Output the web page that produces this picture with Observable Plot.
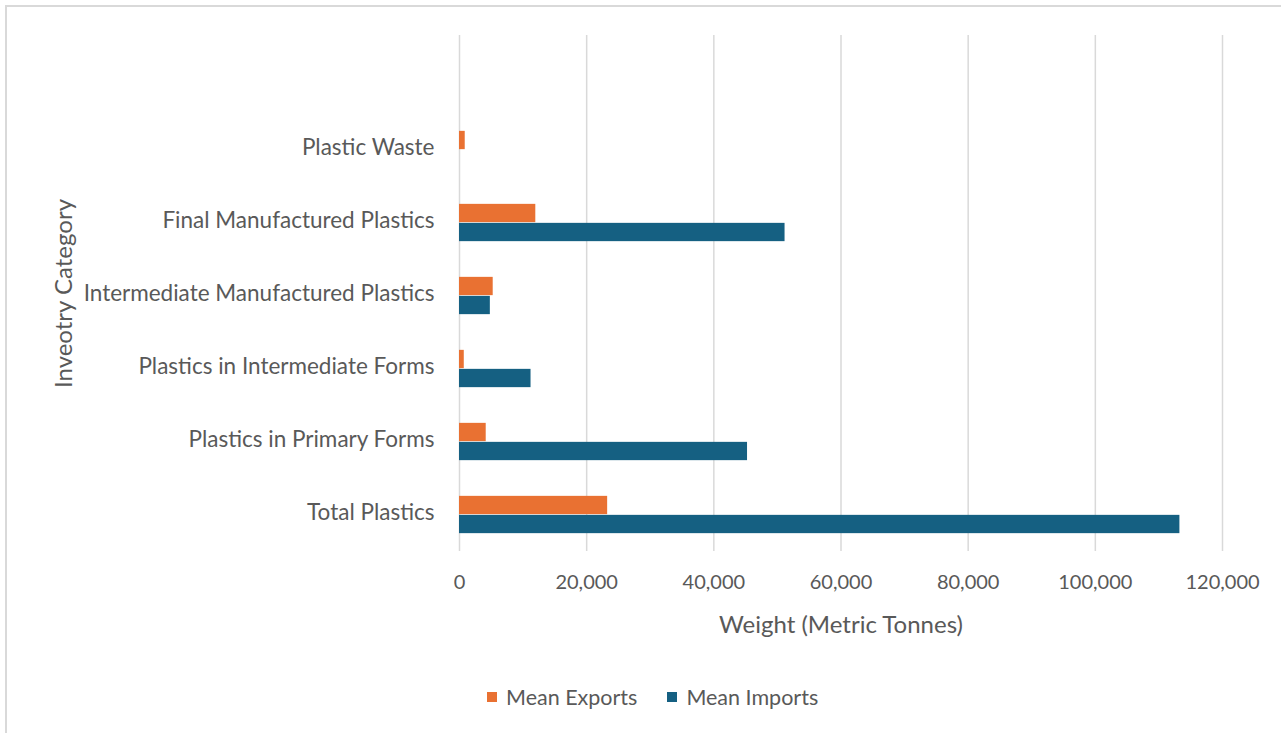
<!DOCTYPE html>
<html><head><meta charset="utf-8">
<script src="https://cdn.jsdelivr.net/npm/d3@7"></script>
<script src="https://cdn.jsdelivr.net/npm/@observablehq/plot@0.6"></script>
<style>
html,body{margin:0;padding:0;background:#fff;overflow:hidden;}
#frame{position:absolute;left:5px;top:5px;width:1290px;height:760px;border:2px solid #d9d9d9;box-sizing:border-box;}
#chart svg{display:block;}
#legend{display:flex;align-items:center;margin-left:480px;margin-top:38px;height:24px;font-family:Lato,sans-serif;font-size:21.5px;color:#595959;}
#legend .item{display:flex;align-items:center;margin-right:30px;}
#legend .sw{width:10px;height:10px;margin-right:9px;}
</style>
</head><body>
<div id="frame"><div id="chart"></div><div id="legend"></div></div>
<script>
const categories = ["Plastic Waste","Final Manufactured Plastics","Intermediate Manufactured Plastics","Plastics in Intermediate Forms","Plastics in Primary Forms","Total Plastics"];
const seriesNames = ["Mean Exports","Mean Imports"];
const meanExports = [900, 12000, 5300, 750, 4200, 23300];
const meanImports = [0, 51200, 4850, 11250, 45300, 113300];
const xTicks = [0,20000,40000,60000,80000,100000,120000];
const xTitle = "Weight (Metric Tonnes)";
const yTitle = "Inveotry Category";
const seriesColors = ["#E97132","#156082"];

const rows = categories.flatMap((c,i)=>[
  {category:c, series:seriesNames[0], value:meanExports[i]},
  {category:c, series:seriesNames[1], value:meanImports[i]}
]);
const fmt = d3.format(",");

const plot = Plot.plot({
  width:1274, height:640,
  marginLeft:452, marginRight:59, marginTop:28, marginBottom:96,
  style:{fontFamily:"Lato, sans-serif", fontSize:"19px", color:"#595959", background:"transparent", overflow:"visible"},
  x:{domain:[0,120000]},
  y:{domain:categories, paddingInner:0, paddingOuter:0.5, align:1},
  color:{domain:seriesNames, range:seriesColors},
  marks:[
    Plot.gridX(xTicks, {stroke:"#d9d9d9", strokeOpacity:1, strokeWidth:1.5}),
    Plot.axisX(xTicks, {tickSize:0, tickPadding:23, tickFormat:fmt, label:null, fontSize:20}),
    Plot.axisY({tickSize:0, tickPadding:25, label:null, fontSize:22.5, dy:-2.5}),
    Plot.text([xTitle], {text:d=>d, frameAnchor:"bottom", dy:74, lineAnchor:"middle", textAnchor:"middle", fontSize:24}),
    Plot.text([yTitle], {text:d=>d, frameAnchor:"left", rotate:-90, dx:-395, lineAnchor:"middle", textAnchor:"middle", fontSize:24}),
    Plot.barX(rows.filter(d=>d.series===seriesNames[0]), {x:"value", y:"category", fill:"series", insetTop:17.85, insetBottom:36.85}),
    Plot.barX(rows.filter(d=>d.series===seriesNames[1]), {x:"value", y:"category", fill:"series", insetTop:36.85, insetBottom:17.85})
  ]
});
document.getElementById("chart").appendChild(plot);

const legend = document.getElementById("legend");
seriesNames.forEach((s,i)=>{
  const item = document.createElement("div"); item.className="item";
  const sw = document.createElement("span"); sw.className="sw"; sw.style.background=seriesColors[i];
  const t = document.createElement("span"); t.textContent=s;
  item.appendChild(sw); item.appendChild(t); legend.appendChild(item);
});
</script>
</body></html>
